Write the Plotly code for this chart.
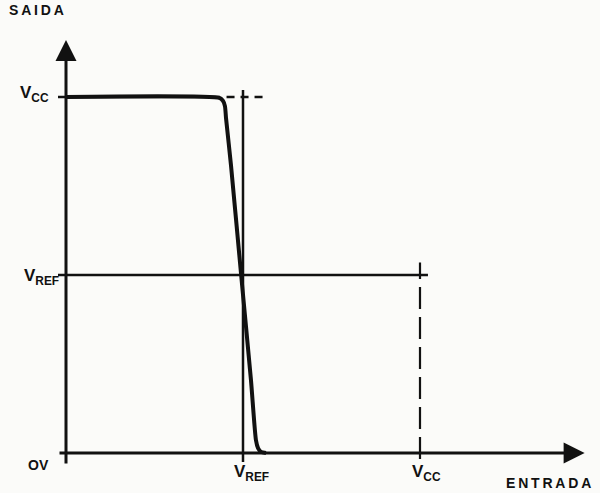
import plotly.graph_objects as go

# Reference levels (normalized units: VREF = 1, VCC = 2)
VREF = 1.0
VCC = 2.0

# Transfer curve of the comparator (SAIDA vs ENTRADA)
curve_in = [0.0, 0.870, 0.887, 0.898, 0.904, 0.932, 0.989, 1.045, 1.073, 1.085, 1.102, 1.130]
curve_out = [2.0, 1.994, 1.978, 1.949, 1.882, 1.618, 1.006, 0.410, 0.073, 0.028, 0.006, 0.0]

x_ticks = ["V<sub>REF</sub>", "V<sub>CC</sub>"]
y_ticks = ["OV", "V<sub>REF</sub>", "V<sub>CC</sub>"]

PX = 177.0
PY = 178.0
x0 = -66 / PX
x1 = 534 / PX
y0 = -40 / PY
y1 = 453 / PY

fig = go.Figure()
ink = "#111111"

def seg(xs, ys, w=2.5, dash="solid"):
    fig.add_trace(go.Scatter(x=xs, y=ys, mode="lines",
                             line=dict(color=ink, width=w, dash=dash),
                             hoverinfo="skip", showlegend=False))

tick = -8 / PX
# VCC horizontal: solid part then dashed continuation
seg([tick, curve_in[1]], [VCC, VCC], 2.5)
seg([curve_in[2] + 0.02, 1.14], [VCC, VCC], 2.5, "8px,6px")
# VREF horizontal
seg([tick, 2.045], [VREF, VREF], 2.5)
# VREF vertical
seg([VREF, VREF], [-9 / PY, 2.04], 2.5)
# VCC vertical dashed
seg([VCC, VCC], [-6 / PY, 1.07], 2.2, "22px,8px")
# transfer curve
fig.add_trace(go.Scatter(x=curve_in, y=curve_out, mode="lines",
                         line=dict(color=ink, width=4, shape="spline", smoothing=0.6),
                         hoverinfo="skip", showlegend=False))

# axes with arrows
fig.add_annotation(x=0, y=2.32, ax=0, ay=-12 / PY, xref="x", yref="y", axref="x", ayref="y",
                   showarrow=True, arrowhead=2, arrowsize=1.4, arrowwidth=3, arrowcolor=ink, text="")
fig.add_annotation(x=2.93, y=0, ax=tick, ay=0, xref="x", yref="y", axref="x", ayref="y",
                   showarrow=True, arrowhead=2, arrowsize=1.4, arrowwidth=3, arrowcolor=ink, text="")

font = dict(family="Liberation Sans, Arial, sans-serif", size=15, color=ink)

def label(x, y, text, xanchor="center", yanchor="middle", size=15):
    f = dict(font)
    f["size"] = size
    fig.add_annotation(x=x, y=y, xref="x", yref="y", text="<b>" + text + "</b>", showarrow=False,
                       xanchor=xanchor, yanchor=yanchor, font=f)

ts = "\u2009"
# y tick labels
label(-15 / PX, VCC + 3 / PY, y_ticks[2], xanchor="right", size=17)
label(-5 / PX, VREF - 2 / PY, y_ticks[1], xanchor="right", size=17)
label(-15 / PX, -12 / PY, y_ticks[0], xanchor="right", size=14)
# x tick labels
label(VREF + 8 / PX, -20 / PY, x_ticks[0], size=17)
label(VCC + 6 / PX, -20 / PY, x_ticks[1], size=17)
# axis titles
label(-59 / PX, 443 / PY, ts.join("SAIDA"), xanchor="left", size=14)
label(2.98, -30 / PY, ts.join("ENTRADA"), xanchor="right", size=14)

fig.update_layout(
    width=600, height=493,
    margin=dict(l=0, r=0, t=0, b=0),
    paper_bgcolor="#fbfbf9", plot_bgcolor="#fbfbf9",
    xaxis=dict(range=[x0, x1], visible=False, fixedrange=True),
    yaxis=dict(range=[y0, y1], visible=False, fixedrange=True),
    showlegend=False,
)

fig.write_html("out.html", config={"displayModeBar": False},
               post_script="document.body.style.margin='0';document.body.style.background='#fbfbf9';")
